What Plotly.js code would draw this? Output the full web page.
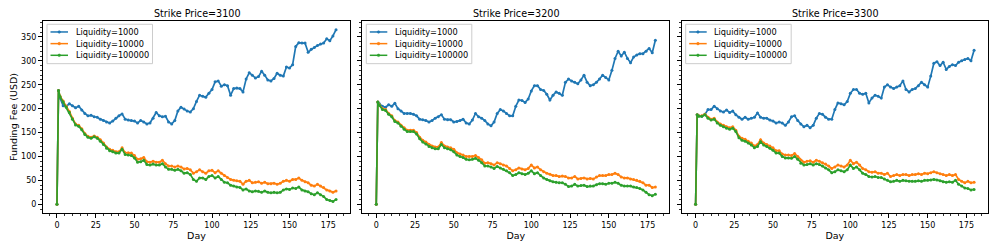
<!DOCTYPE html>
<html>
<head>
<meta charset="utf-8">
<script src="https://cdn.plot.ly/plotly-3.0.1.min.js"></script>
<style>html,body{margin:0;padding:0;background:#fff;}#chart{width:997px;height:249px;}</style>
</head>
<body>
<div id="chart"></div>
<script>
const days = [0,1,
  2,4,6,8,10,12,14,16,18,20,
  22,24,26,28,30,32,34,36,38,40,
  42,44,46,48,50,52,54,56,58,60,
  62,64,66,68,70,72,74,76,78,80,
  82,84,86,88,90,92,94,96,98,100,
  102,104,106,108,110,112,114,116,118,120,
  122,124,126,128,130,132,134,136,138,140,
  142,144,146,148,150,152,154,156,158,160,
  162,164,166,168,170,172,174,176,178,180];

const strikeTitles = ["Strike Price=3100", "Strike Price=3200", "Strike Price=3300"];
const seriesNames = ["Liquidity=1000", "Liquidity=10000", "Liquidity=100000"];
const xTickVals = [0, 25, 50, 75, 100, 125, 150, 175];
const yTickVals = [0, 50, 100, 150, 200, 250, 300, 350];

// Strike 3100
const fee3100_L1000 = [0,238,
  222,206,205,210,206,202,205,197,190,185,
  186,183,182,178,175,172,170,174,180,185,
  189,178,176,175,174,170,175,172,168,170,
  180,192,185,183,184,172,168,175,195,203,
  199,195,193,200,215,228,226,224,232,240,
  256,258,247,250,248,228,242,243,242,235,
  262,275,270,264,267,278,270,260,258,263,
  274,270,268,287,285,292,330,338,337,337,
  318,324,328,332,335,337,346,342,352,365];
const fee3100_L10000 = [0,238,
  226,216,205,194,180,168,165,158,148,142,
  140,143,140,135,128,120,115,113,110,110,
  118,108,108,107,102,94,95,98,89,88,
  90,88,88,92,85,80,80,78,80,78,
  74,75,72,65,68,72,68,65,70,71,
  66,70,65,60,56,52,50,49,48,42,
  48,50,45,46,47,44,46,43,43,44,
  42,44,48,50,48,52,52,55,50,47,
  45,40,38,42,38,35,30,28,25,28];
const fee3100_L100000 = [0,238,
  225,214,203,192,178,166,163,156,146,140,
  138,141,138,132,125,117,112,110,107,107,
  115,104,103,102,97,88,89,92,83,82,
  84,82,82,85,78,73,73,71,73,70,
  65,66,62,52,48,55,55,52,58,60,
  55,58,52,46,45,40,38,36,35,30,
  32,28,26,28,27,25,28,25,24,25,
  24,25,30,32,31,34,33,36,30,28,
  26,22,20,24,20,16,10,8,6,10];

// Strike 3200
const fee3200_L1000 = [0,214,
  210,205,203,208,205,211,200,195,190,190,
  190,188,185,178,177,175,172,175,180,183,
  187,178,177,177,172,173,175,178,170,168,
  176,190,183,180,175,168,164,172,190,198,
  195,190,185,185,205,218,217,213,220,237,
  248,248,240,238,230,218,228,235,232,228,
  255,262,258,255,252,260,270,255,248,250,
  255,262,270,265,260,280,305,320,310,318,
  305,296,308,312,315,315,320,326,317,343];
const fee3200_L10000 = [0,214,
  208,200,198,190,185,175,172,165,160,155,
  155,155,150,140,134,130,125,122,120,120,
  129,122,120,118,115,108,105,103,100,100,
  100,102,98,93,86,87,85,82,87,85,
  82,80,75,70,72,76,74,72,75,82,
  76,78,72,68,65,63,60,60,58,59,
  58,55,55,58,53,54,55,53,54,53,
  57,60,60,60,62,62,65,62,57,55,
  55,53,52,50,48,45,40,40,35,36];
const fee3200_L100000 = [0,214,
  207,198,196,188,183,173,170,163,157,152,
  152,152,147,137,130,126,121,118,116,116,
  125,118,116,114,110,103,100,98,94,93,
  94,96,92,87,80,80,78,75,79,76,
  73,70,66,60,62,66,64,62,65,70,
  64,66,60,55,52,49,47,46,45,45,
  42,37,38,42,38,39,40,37,38,38,
  41,43,43,42,44,44,46,44,40,38,
  38,38,36,35,33,30,25,20,18,21];

// Strike 3300
const fee3300_L1000 = [0,187,
  185,184,188,198,198,205,200,195,193,197,
  192,195,187,182,178,182,178,180,182,191,
  182,180,180,176,174,170,172,170,165,172,
  183,185,175,168,162,165,160,165,180,190,
  188,182,178,178,198,212,210,208,215,232,
  240,240,232,230,232,212,222,228,226,222,
  245,250,245,242,245,248,258,240,235,240,
  242,248,255,250,245,268,295,298,290,297,
  282,288,292,290,297,300,303,305,300,322];
const fee3300_L10000 = [0,187,
  185,185,188,182,178,180,172,168,165,162,
  160,162,155,142,138,136,132,128,122,125,
  135,128,125,122,118,112,112,105,103,103,
  102,106,100,92,88,90,91,88,92,90,
  87,84,80,75,78,82,80,78,82,92,
  85,88,82,75,72,68,67,68,65,65,
  62,65,58,60,62,60,62,62,60,62,
  62,64,62,65,64,66,68,66,64,62,
  60,62,60,62,52,48,45,48,45,46];
const fee3300_L100000 = [0,187,
  184,184,187,180,176,178,170,165,162,159,
  157,159,152,139,134,132,128,124,118,121,
  131,124,121,117,113,107,107,100,97,97,
  96,100,94,86,82,83,85,82,85,83,
  80,76,72,66,68,72,70,68,72,82,
  75,78,72,65,62,58,57,58,56,56,
  53,50,47,48,50,48,50,49,48,48,
  48,49,48,50,50,51,52,51,49,47,
  46,47,46,50,42,38,34,33,30,31];

const panels = [
  [fee3100_L1000, fee3100_L10000, fee3100_L100000],
  [fee3200_L1000, fee3200_L10000, fee3200_L100000],
  [fee3300_L1000, fee3300_L10000, fee3300_L100000]
];
const colors = ["#1f77b4", "#ff7f0e", "#2ca02c"];
const FONT = "DejaVu Sans, sans-serif";

const axSuffix = i => (i === 0 ? "" : String(i + 1));

const traces = [];
panels.forEach((p, pi) => {
  p.forEach((vals, si) => {
    traces.push({
      type: "scatter", mode: "lines+markers",
      x: days, y: vals, name: seriesNames[si],
      xaxis: "x" + axSuffix(pi), yaxis: "y" + axSuffix(pi),
      showlegend: false,
      line: {color: colors[si], width: 1.7},
      marker: {color: colors[si], size: 3, symbol: "circle"},
      hoverinfo: "skip"
    });
  });
});

// Layout geometry (pixels)
const L = 43, R = 9, T = 21, B = 36, W = 997, H = 249;
const pw = W - L - R, ph = H - T - B;
const panelPx = [[43, 350], [362.3, 669.3], [681.7, 988]];
const doms = panelPx.map(([a, b]) => [(a - L) / pw, Math.min(1, (b - L) / pw)]);

function xax(i) {
  return {
    domain: doms[i], range: [-9, 189], anchor: "y" + axSuffix(i),
    tickmode: "array", tickvals: xTickVals,
    ticks: "outside", ticklen: 4, tickwidth: 1, tickcolor: "#000",
    minor: {dtick: 5, tick0: 0, ticks: "outside", ticklen: 2, tickwidth: 0.8, tickcolor: "#000"},
    showline: true, linecolor: "#000", linewidth: 1, mirror: true,
    showgrid: false, zeroline: false,
    tickfont: {family: FONT, size: 8, color: "#000"},
    title: {text: "Day", font: {family: FONT, size: 9.5, color: "#000"}, standoff: 0},
    automargin: false
  };
}
function yax(i) {
  return {
    range: [-18.25, 383.25], anchor: "x" + axSuffix(i),
    tickmode: "array", tickvals: yTickVals,
    showticklabels: i === 0,
    ticks: "outside", ticklen: 4, tickwidth: 1, tickcolor: "#000",
    minor: {dtick: 10, tick0: 0, ticks: "outside", ticklen: 2, tickwidth: 0.8, tickcolor: "#000"},
    showline: true, linecolor: "#000", linewidth: 1, mirror: true,
    showgrid: false, zeroline: false,
    tickfont: {family: FONT, size: 8, color: "#000"},
    title: i === 0 ? {text: "Funding Fee (USD)", font: {family: FONT, size: 9.5, color: "#000"}, standoff: 1} : {text: ""},
    automargin: false
  };
}

// Legend drawn inside each panel (matplotlib-style compact legend box)
const shapes = [];
const annotations = [];
panelPx.forEach(([a, b], i) => {
  const w = b - a;
  const fx = px => px / w;             // px offset from panel left -> domain fraction
  const fy = py => 1 - (py - 20.7) / 192.6; // absolute px y -> domain fraction
  const xr = "x" + axSuffix(i) + " domain", yr = "y" + axSuffix(i) + " domain";
  shapes.push({type: "rect", xref: xr, yref: yr, x0: fx(4), x1: fx(109.5), y0: fy(63.5), y1: fy(24),
    fillcolor: "rgba(255,255,255,0.8)", line: {color: "#cccccc", width: 1}, layer: "above"});
  seriesNames.forEach((nm, si) => {
    const ry = fy(31.7 + 11.7 * si);
    shapes.push({type: "line", xref: xr, yref: yr, x0: fx(7.5), x1: fx(25), y0: ry, y1: ry,
      line: {color: colors[si], width: 1.5}, layer: "above"});
    shapes.push({type: "circle", xref: xr, yref: yr, xsizemode: "pixel", ysizemode: "pixel",
      xanchor: fx(16.25), yanchor: ry, x0: -1.3, x1: 1.3, y0: -1.3, y1: 1.3,
      fillcolor: colors[si], line: {color: colors[si], width: 0.5}, layer: "above"});
    annotations.push({text: nm, xref: xr, yref: yr, x: fx(31.5), y: ry, xanchor: "left", yanchor: "middle",
      showarrow: false, font: {family: FONT, size: 8.2, color: "#000"}, borderpad: 0});
  });
  annotations.push({
    text: strikeTitles[i], xref: "x" + axSuffix(i) + " domain", x: 0.5,
    yref: "paper", y: 1, yanchor: "bottom", yshift: 0, showarrow: false,
    font: {family: FONT, size: 9.6, color: "#000"}
  });
});

const layout = {
  width: W, height: H,
  margin: {l: L, r: R, t: T, b: B},
  paper_bgcolor: "#fff", plot_bgcolor: "#fff",
  font: {family: FONT, size: 8, color: "#000"},
  showlegend: false,
  xaxis: xax(0), xaxis2: xax(1), xaxis3: xax(2),
  yaxis: yax(0), yaxis2: Object.assign(yax(1), {matches: "y"}), yaxis3: Object.assign(yax(2), {matches: "y"}),
  shapes: shapes,
  annotations: annotations
};

Plotly.newPlot("chart", traces, layout, {displayModeBar: false, staticPlot: true});
</script>
</body>
</html>
